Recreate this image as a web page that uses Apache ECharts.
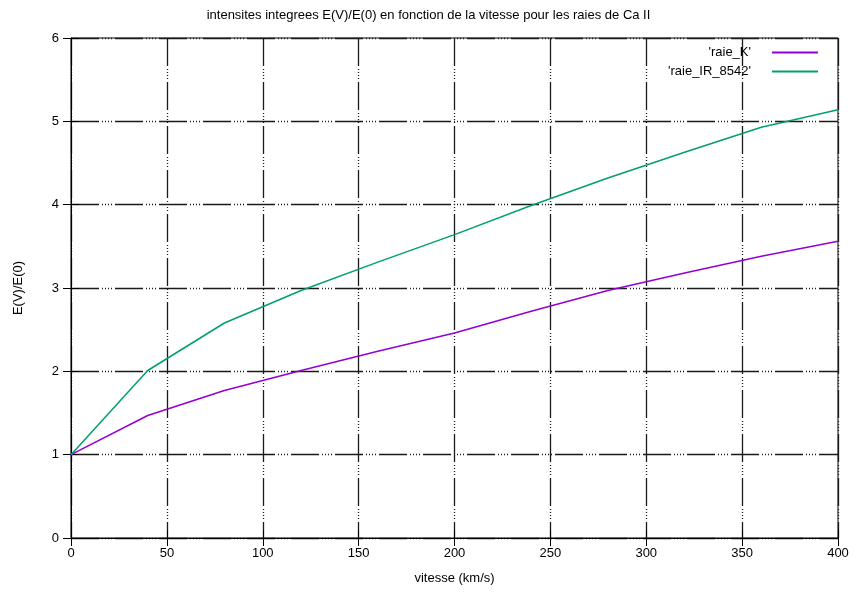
<!DOCTYPE html>
<html>
<head>
<meta charset="utf-8">
<script src="https://cdn.jsdelivr.net/npm/echarts@6/dist/echarts.min.js"></script>
<style>
  html, body { margin: 0; padding: 0; background: #fff; }
  #chart { width: 857px; height: 592px; }
</style>
</head>
<body>
<div id="chart"></div>
<script>
// Velocity samples (km/s)
const vitesse = [0, 40, 80, 120, 160, 200, 240, 280, 320, 360, 400];
// Integrated intensity ratio E(V)/E(0) for each Ca II line
const raieK = [1.00, 1.47, 1.77, 2.01, 2.24, 2.46, 2.72, 2.97, 3.18, 3.38, 3.56];
const raieIR8542 = [1.00, 2.01, 2.58, 2.97, 3.31, 3.64, 3.99, 4.32, 4.63, 4.93, 5.14];
// Axis ranges and steps
const xRange = [0, 400, 50];
const yRange = [0, 6, 1];
const seriesNames = ["'raie_K'", "'raie_IR_8542'"];
const titleText = 'intensites integrees E(V)/E(0) en fonction de la vitesse pour les raies de Ca II';

const FONT = 'Liberation Sans';
const gridDash = [28, 3, 1, 2, 1, 2, 1, 2, 1, 3];

function pairs(xs, ys) { return xs.map((x, i) => [x, ys[i]]); }

const chart = echarts.init(document.getElementById('chart'), null, { renderer: 'canvas' });

const gridLine = { show: true, lineStyle: { color: '#1a1a1a', width: 1.3, type: gridDash } };

chart.setOption({
  animation: false,
  backgroundColor: '#ffffff',
  textStyle: { fontFamily: FONT },
  title: {
    text: titleText,
    left: 'center',
    top: 4,
    textStyle: { fontFamily: FONT, fontSize: 13, fontWeight: 'normal', color: '#000' }
  },
  legend: {
    orient: 'vertical',
    right: 34,
    top: 41,
    align: 'right',
    itemGap: 6,
    itemWidth: 46,
    itemHeight: 2,
    icon: 'rect',
    textStyle: { fontFamily: FONT, fontSize: 13, color: '#000', padding: [0, 16, 0, 0] },
    data: seriesNames
  },
  grid: {
    left: 71, right: 19, top: 38, bottom: 54,
    show: true, borderColor: '#000', borderWidth: 1, backgroundColor: 'transparent'
  },
  xAxis: [{
    type: 'value',
    min: xRange[0], max: xRange[1], interval: xRange[2],
    name: 'vitesse (km/s)',
    nameLocation: 'middle',
    nameGap: 34,
    nameTextStyle: { fontFamily: FONT, fontSize: 13, color: '#000' },
    axisLine: { show: true, lineStyle: { color: '#000', width: 1 } },
    axisTick: { show: true, inside: true, length: 8, lineStyle: { color: '#000' } },
    axisLabel: { fontFamily: FONT, fontSize: 13, color: '#000', margin: 9 },
    splitLine: gridLine
  }, {
    type: 'value',
    position: 'top',
    min: xRange[0], max: xRange[1], interval: xRange[2],
    axisLine: { show: false },
    axisTick: { show: true, inside: true, length: 8, lineStyle: { color: '#000' } },
    axisLabel: { show: false },
    splitLine: { show: false }
  }],
  yAxis: [{
    type: 'value',
    min: yRange[0], max: yRange[1], interval: yRange[2],
    name: 'E(V)/E(0)',
    nameLocation: 'middle',
    nameGap: 46,
    nameRotate: 90,
    nameTextStyle: { fontFamily: FONT, fontSize: 13, color: '#000' },
    axisLine: { show: true, lineStyle: { color: '#000', width: 1 } },
    axisTick: { show: true, inside: true, length: 8, lineStyle: { color: '#000' } },
    axisLabel: { fontFamily: FONT, fontSize: 13, color: '#000', margin: 12 },
    splitLine: gridLine
  }, {
    type: 'value',
    position: 'right',
    min: yRange[0], max: yRange[1], interval: yRange[2],
    axisLine: { show: false },
    axisTick: { show: true, inside: true, length: 8, lineStyle: { color: '#000' } },
    axisLabel: { show: false },
    splitLine: { show: false }
  }],
  series: [{
    name: seriesNames[0],
    type: 'line',
    data: pairs(vitesse, raieK),
    showSymbol: false,
    symbol: 'none',
    color: '#9400d3',
    lineStyle: { color: '#9400d3', width: 1.5 },
    z: 5
  }, {
    name: seriesNames[1],
    type: 'line',
    data: pairs(vitesse, raieIR8542),
    showSymbol: false,
    symbol: 'none',
    color: '#009e73',
    lineStyle: { color: '#009e73', width: 1.5 },
    z: 5
  }]
});
</script>
</body>
</html>
